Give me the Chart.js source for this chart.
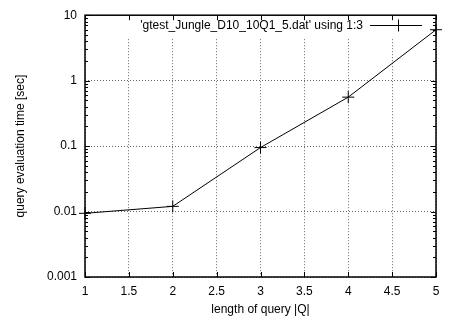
<!DOCTYPE html>
<html>
<head>
<meta charset="utf-8">
<script src="https://cdn.jsdelivr.net/npm/chart.js@4/dist/chart.umd.min.js"></script>
<style>
  html, body { margin: 0; padding: 0; background: #fff; }
</style>
</head>
<body>
<canvas id="query-chart" width="452" height="320"></canvas>
<script>
// query length vs. evaluation time (log scale)
const queryLengths = [1, 2, 3, 4, 5];
const evalTimes = [0.0094, 0.0120, 0.095, 0.56, 6.0];
const yTickValues = [0.001, 0.01, 0.1, 1, 10];
const seriesLabel = "'gtest_Jungle_D10_10Q1_5.dat' using 1:3";
const xTitle = 'length of query |Q|';
const yTitle = 'query evaluation time [sec]';

const FONT = "'Liberation Sans', Arial, Helvetica, sans-serif";

// gnuplot style: full frame, inward ticks, opaque key in the top right
const gnuplotFrame = {
  id: 'gnuplotFrame',
  beforeDatasetsDraw(chart) {
    const { ctx, chartArea } = chart;
    ctx.save();
    ctx.fillStyle = '#fff';
    ctx.fillRect(124, chartArea.top, chartArea.right - 124, 22);
    ctx.restore();
  },
  afterDatasetsDraw(chart) {
    const { ctx, chartArea } = chart;
    const { left, right, top, bottom } = chartArea;
    const xs = chart.scales.x;
    const ys = chart.scales.y;
    ctx.save();
    ctx.strokeStyle = '#000';
    ctx.lineWidth = 1;

    ctx.beginPath();
    xs.ticks.forEach(t => {
      const px = Math.round(xs.getPixelForValue(t.value)) + 0.5;
      ctx.moveTo(px, bottom); ctx.lineTo(px, bottom - 5);
      ctx.moveTo(px, top); ctx.lineTo(px, top + 5);
    });
    yTickValues.forEach(v => {
      const py = Math.round(ys.getPixelForValue(v)) + 0.5;
      ctx.moveTo(left, py); ctx.lineTo(left + 5, py);
      ctx.moveTo(right, py); ctx.lineTo(right - 5, py);
    });
    // minor ticks on the log axis
    yTickValues.slice(0, -1).forEach(d => {
      for (let k = 2; k <= 9; k++) {
        const py = Math.round(ys.getPixelForValue(d * k)) + 0.5;
        ctx.moveTo(left, py); ctx.lineTo(left + 3, py);
        ctx.moveTo(right, py); ctx.lineTo(right - 3, py);
      }
    });
    ctx.stroke();

    ctx.lineWidth = 1.5;
    ctx.strokeRect(left, top, right - left, bottom - top);

    // key
    ctx.fillStyle = '#000';
    ctx.font = '12px ' + FONT;
    ctx.textAlign = 'right';
    ctx.textBaseline = 'middle';
    ctx.fillText(chart.data.datasets[0].label, 363, 26);
    ctx.lineWidth = 1;
    ctx.beginPath();
    ctx.moveTo(370, 25.5); ctx.lineTo(422, 25.5);
    ctx.moveTo(398.5, 19.5); ctx.lineTo(398.5, 31.5);
    ctx.stroke();
    ctx.restore();
  }
};

const ctx = document.getElementById('query-chart').getContext('2d');
new Chart(ctx, {
  type: 'line',
  data: {
    labels: queryLengths,
    datasets: [{
      label: seriesLabel,
      data: queryLengths.map((x, i) => ({ x: x, y: evalTimes[i] })),
      borderColor: '#000',
      borderWidth: 1,
      pointStyle: 'cross',
      pointRadius: 6,
      pointBorderColor: '#000',
      pointBorderWidth: 1,
      tension: 0,
      fill: false,
      clip: false
    }]
  },
  options: {
    responsive: false,
    animation: false,
    devicePixelRatio: 1,
    layout: {
      padding: { left: 0, right: 16, top: 14, bottom: 0 }
    },
    plugins: {
      legend: { display: false },
      tooltip: { enabled: false }
    },
    scales: {
      x: {
        type: 'linear',
        min: 1,
        max: 5,
        afterFit(scale) { scale.height = 43; },
        ticks: {
          stepSize: 0.5,
          color: '#000',
          padding: 7,
          font: { family: FONT, size: 12 },
          callback: v => String(v)
        },
        grid: {
          color: 'rgba(0,0,0,0.6)',
          drawTicks: false
        },
        border: { display: false, dash: [1, 2] },
        title: {
          display: true,
          text: xTitle,
          color: '#000',
          font: { family: FONT, size: 12 },
          padding: { top: 0, bottom: 3 }
        }
      },
      y: {
        type: 'logarithmic',
        min: 0.001,
        max: 10,
        afterFit(scale) { scale.width = 85; },
        afterBuildTicks(scale) {
          scale.ticks = yTickValues.map(v => ({ value: v }));
        },
        ticks: {
          color: '#000',
          padding: 8,
          font: { family: FONT, size: 12 },
          callback: v => String(v)
        },
        grid: {
          color: 'rgba(0,0,0,0.6)',
          drawTicks: false
        },
        border: { display: false, dash: [1, 2] },
        title: {
          display: true,
          text: yTitle,
          color: '#000',
          font: { family: FONT, size: 12 },
          padding: { top: 13, bottom: 0 }
        }
      }
    }
  },
  plugins: [gnuplotFrame]
});
</script>
</body>
</html>
